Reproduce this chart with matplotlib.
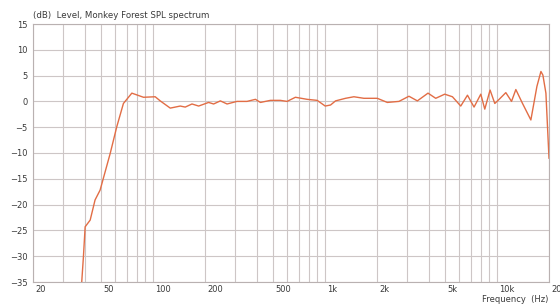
import numpy as np
import matplotlib.pyplot as plt
from matplotlib.ticker import FixedLocator, NullFormatter

# SPL spectrum (Hz, dB)
freq = [38.4, 39.3, 40.2, 43.0, 45.9, 49.1, 56.2, 61.4, 67.1, 75.1, 87.8,
        102.7, 109.8, 125.6, 143.6, 153.5, 168, 183.7, 209.9, 224.5, 245.6,
        268.7, 307, 351, 393, 420, 480, 549, 600, 671, 785, 898, 1000, 1074,
        1148, 1313, 1468, 1678, 2008, 2296, 2683, 3068, 3433, 3959, 4389,
        4951, 5491, 6137, 6714, 7333, 8025, 8465, 9088, 9680, 10260, 11220,
        12110, 12830, 14030, 15690, 17010, 17950, 18430, 19190, 20000]
level = [-35, -30, -24.3, -23.0, -19.1, -17.2, -10.1, -4.9, -0.4, 1.6, 0.8,
         0.9, 0.1, -1.3, -0.9, -1.1, -0.5, -0.9, -0.2, -0.5, 0.1,
         -0.5, 0.0, 0.0, 0.4, -0.2, 0.2, 0.2, 0.0, 0.8, 0.4, 0.2, -0.9, -0.7,
         0.1, 0.6, 0.9, 0.6, 0.6, -0.2, 0.0, 1.0, 0.1, 1.6, 0.6,
         1.4, 0.9, -0.9, 1.2, -1.1, 1.4, -1.5, 2.2, -0.4, 0.4, 1.7,
         0.0, 2.3, -0.4, -3.6, 2.9, 5.8, 5.1, 1.6, -11.0]

grid_freqs = [30, 40, 50, 60, 70, 80, 90,
              100, 200, 300, 400, 500, 600, 700, 800, 900,
              1000, 2000, 3000, 4000, 5000, 6000, 7000, 8000, 9000, 10000]
label_freqs = [20, 50, 100, 200, 500, 1000, 2000, 5000, 10000, 20000]
label_text = ['20', '50', '100', '200', '500', '1k', '2k', '5k', '10k', '20']
y_ticks = list(range(-35, 16, 5))

txt = '#3a3a3a'
gridc = '#cdc6c6'

fig = plt.figure(figsize=(5.6, 3.04), dpi=100)
ax = fig.add_axes([33 / 560, 1 - 282 / 304, 516 / 560, 258 / 304])

ax.semilogx(freq, level, color='#e26d45', lw=1.0, solid_joinstyle='round')
ax.set_xlim(20, 20000)
ax.set_ylim(-35, 15)

ax.xaxis.set_major_locator(FixedLocator(label_freqs))
ax.xaxis.set_minor_locator(FixedLocator(grid_freqs))
ax.xaxis.set_major_formatter(NullFormatter())
ax.xaxis.set_minor_formatter(NullFormatter())
ax.set_yticks(y_ticks)
ax.grid(True, which='both', color=gridc, lw=0.8)
ax.tick_params(which='both', length=0)
ax.tick_params(axis='y', labelsize=6, labelcolor=txt, pad=4)
for s in ax.spines.values():
    s.set_color('#b9b1b1')
    s.set_linewidth(0.8)

# x labels sit just right of their grid line
for f, t in zip(label_freqs, label_text):
    ax.text(f * 1.03, -36.5, t, fontsize=6, color=txt, ha='left', va='center',
            clip_on=False)

fig.text(33 / 560, 1 - 15 / 304, '(dB)  Level, Monkey Forest SPL spectrum',
         fontsize=6.2, color=txt, ha='left', va='center')
fig.text(548 / 560, 1 - 300 / 304, 'Frequency  (Hz)', fontsize=6, color=txt,
         ha='right', va='center')

fig.savefig('out.png', dpi=100)
